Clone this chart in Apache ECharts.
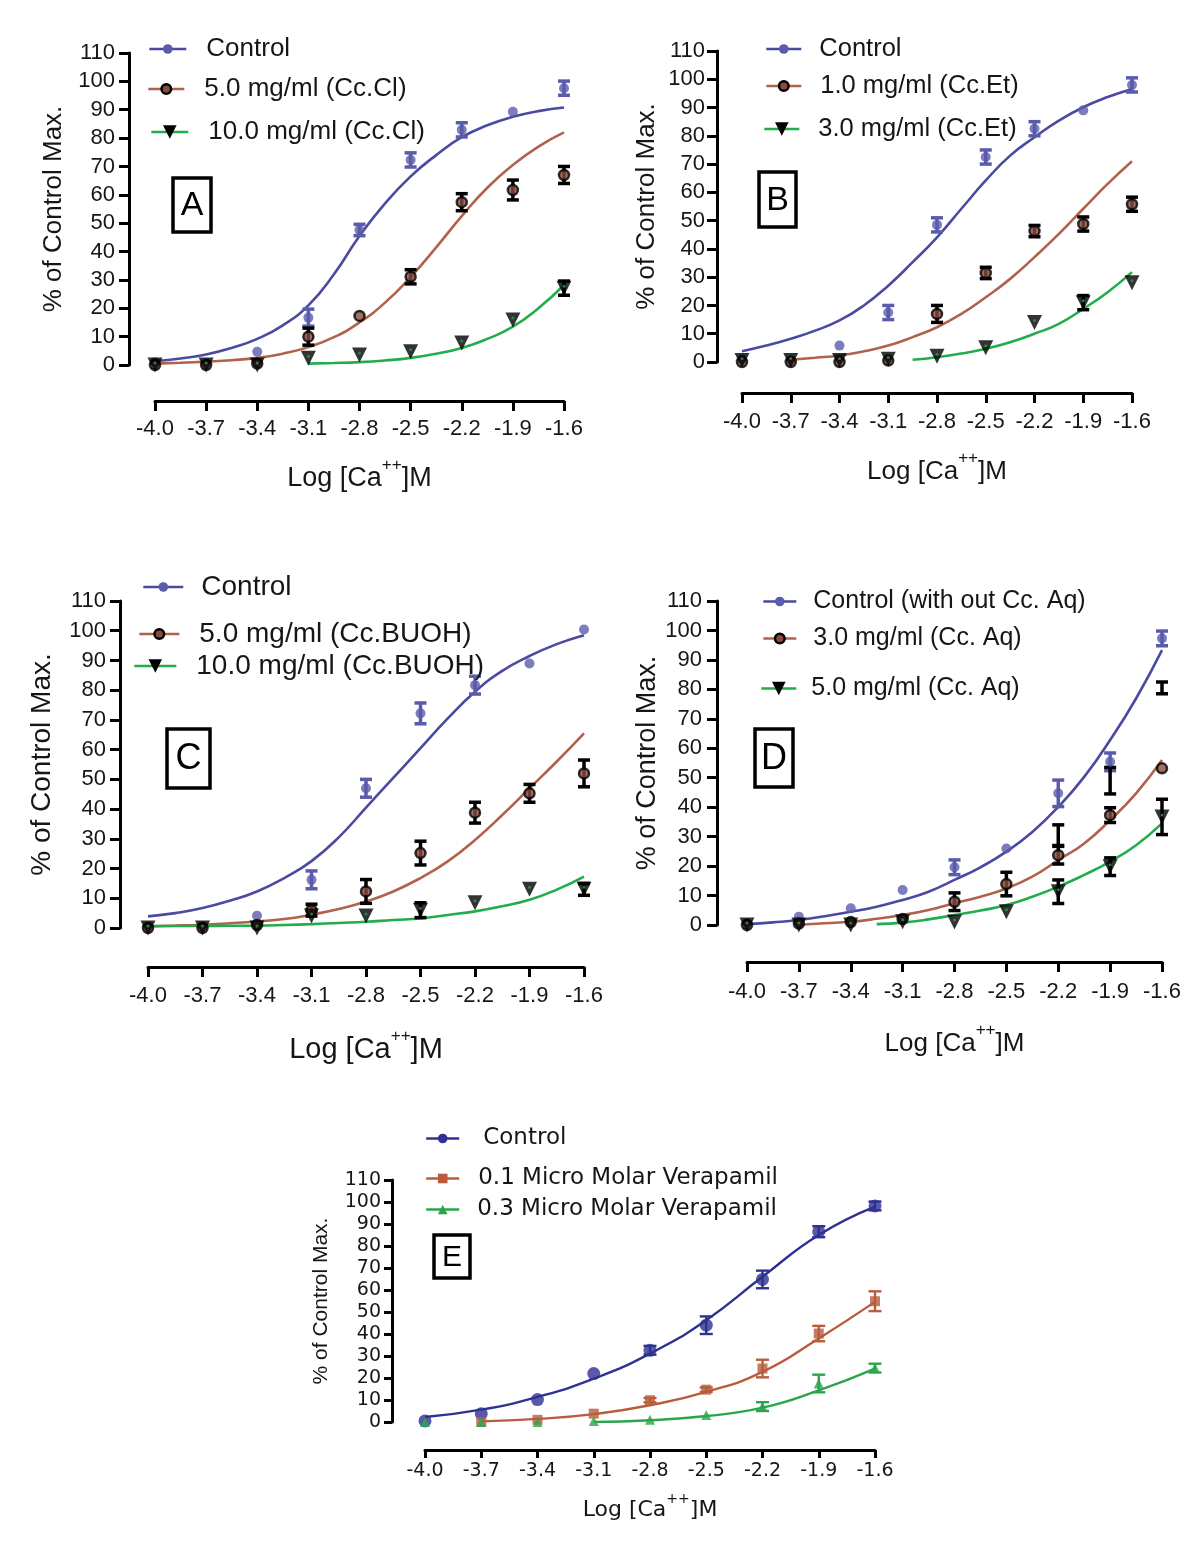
<!DOCTYPE html>
<html><head><meta charset="utf-8">
<script src="https://cdn.jsdelivr.net/npm/echarts@6/dist/echarts.min.js"></script>
<style>html,body{margin:0;padding:0;background:#fff}#c{width:1200px;height:1553px}</style>
</head><body><div id="c"></div>
<script>
// ---------- DATA ----------
const xTicks = [-4.0, -3.7, -3.4, -3.1, -2.8, -2.5, -2.2, -1.9, -1.6];
const xTickLabels = ['-4.0', '-3.7', '-3.4', '-3.1', '-2.8', '-2.5', '-2.2', '-1.9', '-1.6'];
const fitX = [-4.0, -3.85, -3.7, -3.55, -3.4, -3.25, -3.1, -2.95, -2.8, -2.65, -2.5, -2.35, -2.2, -2.05, -1.9, -1.75, -1.6];

// Panel A
const A_names = ['Control', '5.0 mg/ml (Cc.Cl)', '10.0 mg/ml (Cc.Cl)'];
const A_ctrl = [1, 0.5, 4.7, 16.7, 47.6, 72.3, 82.9, 89.3, 97.6];
const A_ctrl_err = [0, 0, 0, 3, 2, 2.5, 2.5, 0, 2.5];
const A_d1 = [0, 0, 0.5, 10, 17.3, 31.1, 57.4, 61.7, 67];
const A_d1_err = [0, 0, 0, 3, 0, 2.5, 3, 3.5, 3];
const A_d2 = [0, 0, 0, 2.4, 3.5, 4.7, 7.8, 15.9, 27.1];
const A_d2_err = [0, 0, 0, 0, 0, 0, 0, 0, 2.5];
const A_fit_ctrl = [1.3, 2.3, 3.7, 6, 9.2, 14, 21, 32, 45.5, 57, 66.5, 74, 80.3, 84.5, 87.5, 89.5, 90.8];
const A_fit_d1 = [0.5, 0.8, 1.2, 1.7, 2.5, 4, 6.3, 9.8, 15, 22, 31, 41.5, 52.5, 62.5, 70.5, 77, 82];
const A_fit_d2 = [null, null, null, null, null, null, 0.5, 0.7, 1, 1.6, 2.5, 4, 6, 9.2, 13.5, 20, 28.2];

// Panel B
const B_names = ['Control', '1.0 mg/ml (Cc.Et)', '3.0 mg/ml (Cc.Et)'];
const B_ctrl = [1, 0.5, 5.8, 17.5, 48.5, 72.5, 82.5, 89, 98];
const B_ctrl_err = [0, 0, 0, 2.5, 2.5, 2.5, 2.5, 0, 2.5];
const B_d1 = [0, 0, 0, 0.5, 17, 31.5, 46.3, 48.8, 55.8];
const B_d1_err = [0, 0, 0, 0, 3, 2, 2, 2.5, 2.5];
const B_d2 = [0.5, 0.5, 0.5, 1, 2, 5, 14, 21, 28];
const B_d2_err = [0, 0, 0, 0, 0, 0, 0, 2.5, 0];
const B_fit_ctrl = [3.8, 5.8, 8.2, 11.1, 14.7, 20, 27, 35.3, 44.1, 54.2, 64.2, 73, 79.5, 85.4, 90.1, 93.7, 96.6];
const B_fit_d1 = [null, null, 0.8, 1.5, 2.3, 3.8, 5.8, 8.8, 12.3, 17, 22.9, 29.4, 37.1, 45.3, 54.2, 63, 71];
const B_fit_d2 = [null, null, null, null, null, null, null, 0.8, 1.7, 3, 4.7, 7, 10, 13.5, 18.8, 24.7, 31.8];

// Panel C
const C_names = ['Control', '5.0 mg/ml (Cc.BUOH)', '10.0 mg/ml (Cc.BUOH)'];
const C_ctrl = [0.5, 0.5, 4.1, 16.2, 47, 72.2, 81.7, 89, 100.4];
const C_ctrl_err = [0, 0, 0, 3, 3, 3.5, 3, 0, 0];
const C_d1 = [0, 0, 1, 6, 12.3, 25.2, 38.8, 45.3, 52];
const C_d1_err = [0, 0, 0, 2, 4, 4, 3.5, 3, 4.5];
const C_d2 = [0, 0, 0, 4, 4, 6, 8.5, 13, 13];
const C_d2_err = [0, 0, 0, 0, 0, 2.5, 0, 0, 2];
const C_fit_ctrl = [3.9, 5, 6.7, 9.2, 12.3, 16.8, 22.5, 30.5, 40.5, 50.5, 60.5, 70.5, 79.5, 86.5, 91.5, 95.5, 98.5];
const C_fit_d1 = [0.6, 0.8, 1.1, 1.6, 2.2, 3, 4.5, 6.4, 8.9, 12.3, 16.8, 22.4, 29.6, 38, 47, 56, 65.5];
const C_fit_d2 = [0.6, 0.65, 0.7, 0.75, 0.8, 1, 1.3, 1.7, 2.1, 2.7, 3.2, 4.4, 5.6, 7.3, 9.5, 12.9, 17.3];

// Panel D
const D_names = ['Control (with out Cc. Aq)', '3.0 mg/ml (Cc. Aq)', '5.0 mg/ml (Cc. Aq)'];
const D_ctrl = [0.5, 2.8, 5.7, 11.9, 19.6, 26, 44.7, 55.4, 97.3];
const D_ctrl_err = [0, 0, 0, 0, 2.5, 0, 4.5, 3, 2.5];
const D_d1 = [0, 0.5, 1, 2, 7.9, 13.9, 23.7, 37.3, 53.2];
const D_d1_err = [0, 0, 0, 0, 3, 4, 3, 2.5, 0];
const D_d2 = [0, 0, 0, 1.1, 1, 4.5, 11.3, 19.8, 36.7];
const D_d2_err = [0, 0, 0, 0, 0, 0, 4, 3, 6];
const D_bar_x = [-2.2, -1.9, -1.6];
const D_bar_y = [30.5, 49, 80.5];
const D_bar_err = [3.5, 4.5, 2];
const D_fit_ctrl = [0.3, 0.9, 1.7, 3, 4.5, 6.2, 8.5, 11.3, 15.3, 19.6, 24.9, 31.6, 40.1, 50.3, 62.8, 76.9, 93.3];
const D_fit_d1 = [null, null, 0.1, 0.6, 1.1, 2.1, 3.4, 5.1, 7.4, 9.6, 12.4, 16.4, 22, 27.7, 35.6, 44.7, 56];
const D_fit_d2 = [null, null, null, null, null, 0.3, 0.8, 1.9, 3.4, 4.9, 6.8, 9.6, 13, 17, 21.5, 27.1, 34.5];

// Panel E
const E_names = ['Control', '0.1 Micro Molar Verapamil', '0.3 Micro Molar Verapamil'];
const E_ctrl = [0.5, 3.8, 10.2, 22, 32.6, 44, 64.8, 86.5, 98.2];
const E_ctrl_err = [0, 0, 0, 0, 2, 4, 4, 2.5, 2];
const E_d1 = [null, 0, 1, 3.8, 9.9, 14.7, 24.3, 40.2, 54.9];
const E_d1_err = [0, 0, 0, 0, 1, 1, 4, 3.5, 4.5];
const E_d2 = [0, 0, 0, 0.5, 1, 3.2, 7, 17.5, 24.5];
const E_d2_err = [0, 0, 0, 0, 0, 0, 2, 4, 2];
const E_fit_ctrl = [2.3, 5.6, 11.4, 19.7, 31.1, 46.3, 66, 85, 97.9];
const E_fit_d1 = [null, 0.3, 1.4, 3.6, 7.6, 13.7, 22.8, 38, 54.6];
const E_fit_d2 = [null, null, null, 0, 0.8, 2.7, 6.5, 14.4, 24.3];

const yTitle = '% of Control Max.';
const panelLetters = ['A', 'B', 'C', 'D', 'E'];

// ---------- STYLE / LAYOUT ----------
const FONT = "'Liberation Sans', Arial, Helvetica, sans-serif";
const DV = "'DejaVu Sans', 'Liberation Sans', sans-serif";
const TXT = '#161616';
const PUR = '#5a5cab', PURL = '#4a4aa0', BRN = '#b0624b', GRN = '#22ad4d';
const EBL = '#2e3192', EBR = '#b85c3c', EGR = '#2aa54b';

const xIdx = x => Math.round((x + 4) / 0.3 * 1000) / 1000;

const grids = [], xAxes = [], yAxes = [], series = [], legends = [], graphics = [];

function errRender(color, capW, lw) {
  return function (params, api) {
    const x = api.value(0), y = api.value(1), e = api.value(2);
    const p1 = api.coord([x, y + e]), p2 = api.coord([x, y - e]);
    const st = { stroke: color, lineWidth: lw };
    return { type: 'group', children: [
      { type: 'line', shape: { x1: p1[0], y1: p1[1], x2: p2[0], y2: p2[1] }, style: st },
      { type: 'line', shape: { x1: p1[0] - capW / 2, y1: p1[1], x2: p1[0] + capW / 2, y2: p1[1] }, style: st },
      { type: 'line', shape: { x1: p2[0] - capW / 2, y1: p2[1], x2: p2[0] + capW / 2, y2: p2[1] }, style: st }
    ] };
  };
}

function addPanel(p) {
  const gi = grids.length;
  grids.push(p.grid);
  yAxes.push({
    gridIndex: gi, type: 'value', min: 0, max: 110, interval: 10, offset: p.yOff,
    axisLine: { show: true, onZero: false, lineStyle: { color: '#000', width: p.axW } },
    axisTick: { show: true, length: p.tickLen, lineStyle: { color: '#000', width: p.axW } },
    axisLabel: { fontSize: p.tickFs, fontFamily: p.tickFont, color: TXT, margin: p.yLabMargin, showMinLabel: true, showMaxLabel: true },
    splitLine: { show: false },
    name: yTitle, nameLocation: 'middle', nameRotate: 90, nameGap: p.yNameGap,
    nameTextStyle: { fontSize: p.yNameFs, fontFamily: FONT, color: TXT }
  });
  xAxes.push({
    gridIndex: gi, type: 'value', min: 0, max: 8, interval: 1, offset: p.xOff,
    axisLine: { show: true, onZero: false, lineStyle: { color: '#000', width: p.axW } },
    axisTick: { show: true, length: p.tickLen, lineStyle: { color: '#000', width: p.axW } },
    axisLabel: { fontSize: p.tickFs, fontFamily: p.tickFont, color: TXT, margin: p.xLabMargin,
      formatter: v => xTickLabels[Math.round(v)], showMinLabel: true, showMaxLabel: true },
    splitLine: { show: false },
    name: '{n|Log [Ca}{s|++}{n|]M}', nameLocation: 'middle', nameGap: p.xNameGap,
    nameTextStyle: { rich: {
      n: { fontSize: p.xNameFs, lineHeight: p.xNameLh, fontFamily: p.xNameFont, color: TXT },
      s: { fontSize: p.xSupFs, lineHeight: p.xSupFs, verticalAlign: 'top', fontFamily: p.xNameFont, color: TXT }
    } }
  });
  p.sets.forEach((s, k) => {
    const fx = s.fitX || fitX;
    const lineData = [];
    fx.forEach((x, i) => { if (s.fit[i] != null) lineData.push([xIdx(x), s.fit[i]]); });
    series.push({
      type: 'line', name: s.name, xAxisIndex: gi, yAxisIndex: gi, data: lineData,
      smooth: 0.5, showSymbol: false, symbol: s.symbol, symbolRotate: s.rotate || 0,
      symbolSize: s.size, lineStyle: { color: s.lineColor, width: p.lineW }, itemStyle: s.item,
      z: 2, silent: true, animation: false
    });
    const errData = [];
    xTicks.forEach((x, i) => { if (s.y[i] != null && s.err[i] > 0) errData.push([xIdx(x), s.y[i], s.err[i]]); });
    series.push({
      type: 'custom', name: s.name, xAxisIndex: gi, yAxisIndex: gi, data: errData,
      renderItem: errRender(s.errColor, p.capW, p.errW), clip: false, z: 3, silent: true, animation: false
    });
    const pts = [];
    xTicks.forEach((x, i) => { if (s.y[i] != null) pts.push([xIdx(x), s.y[i]]); });
    series.push({
      type: 'scatter', name: s.name, xAxisIndex: gi, yAxisIndex: gi, data: pts,
      symbol: s.symbol, symbolSize: s.size, symbolRotate: s.rotate || 0, itemStyle: s.item,
      clip: false, z: 4 + k * 0.1, silent: true, animation: false
    });
    if (s.dot) {
      series.push({
        type: 'scatter', name: s.name, xAxisIndex: gi, yAxisIndex: gi, data: pts,
        symbol: 'circle', symbolSize: 3, symbolOffset: [0, -2], itemStyle: { color: s.dot },
        clip: false, z: 5, silent: true, animation: false
      });
    }
    const L = p.legend[k];
    legends.push({
      data: [s.name], left: L.left, top: L.top, padding: 0, itemWidth: L.w, itemHeight: L.h,
      selectedMode: false, symbolRotate: 'inherit',
      itemStyle: Object.assign({ borderWidth: 0 }, s.item),
      lineStyle: { color: s.lineColor, width: p.lineW },
      textStyle: { fontSize: p.legFs, fontFamily: p.legFont, color: TXT, padding: [0, 0, 0, L.pad] }
    });
  });
  if (p.extra) p.extra(gi);
  const b = p.box;
  graphics.push({ type: 'group', z: 100, children: [
    { type: 'rect', shape: { x: b.x, y: b.y, width: b.w, height: b.h }, style: { fill: '#fff', stroke: '#000', lineWidth: b.lw } },
    { type: 'text', style: { text: p.letter, x: b.x + b.w / 2, y: b.y + b.h / 2 + 1, align: 'center', verticalAlign: 'middle',
      textAlign: 'center', textVerticalAlign: 'middle', fontSize: b.fs, fontFamily: FONT, fill: '#000' } }
  ] });
}

function stdSets(names, c, ce, d1, d1e, d2, d2e, f0, f1, f2) {
  return [
    { name: names[0], y: c, err: ce, fit: f0, symbol: 'circle', size: 10, item: { color: PUR }, lineColor: PURL, errColor: PUR },
    { name: names[1], y: d1, err: d1e, fit: f1, symbol: 'circle', size: 10, item: { color: '#8a4b3c', borderColor: '#000', borderWidth: 2.5 }, lineColor: BRN, errColor: '#000' },
    { name: names[2], y: d2, err: d2e, fit: f2, symbol: 'triangle', rotate: 180, size: 15, item: { color: '#000' }, lineColor: GRN, errColor: '#000', dot: '#2a9a52' }
  ];
}

const common = { axW: 3, tickLen: 10, tickFs: 22, tickFont: FONT, lineW: 2.6, capW: 12, errW: 3.5, xSupFs: 17, xNameFont: FONT, legFont: FONT };

addPanel(Object.assign({}, common, {
  letter: 'A', grid: { left: 155, top: 53, width: 409, height: 312 }, yOff: 26, xOff: 36,
  yLabMargin: 14, xLabMargin: 17, yNameGap: 62, yNameFs: 26, xNameGap: 56, xNameFs: 27, xNameLh: 44, legFs: 26,
  sets: stdSets(A_names, A_ctrl, A_ctrl_err, A_d1, A_d1_err, A_d2, A_d2_err, A_fit_ctrl, A_fit_d1, A_fit_d2),
  legend: [{ left: 148, top: 36, w: 37, h: 12, pad: 15 }, { left: 147, top: 76, w: 36, h: 12, pad: 15 }, { left: 150, top: 119, w: 37, h: 17, pad: 15 }],
  box: { x: 173, y: 178, w: 38, h: 54, lw: 3.5, fs: 34 }
}));
addPanel(Object.assign({}, common, {
  letter: 'B', grid: { left: 742, top: 51, width: 390, height: 311 }, yOff: 25, xOff: 31,
  yLabMargin: 12, xLabMargin: 18, yNameGap: 57, yNameFs: 26, xNameGap: 57, xNameFs: 26, xNameLh: 44, legFs: 25.5,
  sets: stdSets(B_names, B_ctrl, B_ctrl_err, B_d1, B_d1_err, B_d2, B_d2_err, B_fit_ctrl, B_fit_d1, B_fit_d2),
  legend: [{ left: 765, top: 36, w: 35, h: 12, pad: 13 }, { left: 765, top: 73, w: 35, h: 12, pad: 14 }, { left: 763, top: 116, w: 35, h: 17, pad: 14 }],
  box: { x: 759, y: 172, w: 37, h: 55, lw: 3.5, fs: 34 }
}));
addPanel(Object.assign({}, common, {
  letter: 'C', grid: { left: 148, top: 601, width: 436, height: 327 }, yOff: 28, xOff: 39,
  yLabMargin: 14, xLabMargin: 18, yNameGap: 64, yNameFs: 28, xNameGap: 61, xNameFs: 29, xNameLh: 44, legFs: 28,
  sets: stdSets(C_names, C_ctrl, C_ctrl_err, C_d1, C_d1_err, C_d2, C_d2_err, C_fit_ctrl, C_fit_d1, C_fit_d2),
  legend: [{ left: 142, top: 573, w: 40, h: 12, pad: 13 }, { left: 138, top: 620, w: 40, h: 12, pad: 15 }, { left: 133, top: 652, w: 42, h: 17, pad: 15 }],
  box: { x: 167, y: 729, w: 43, h: 59, lw: 3.5, fs: 36 }
}));
addPanel(Object.assign({}, common, {
  letter: 'D', grid: { left: 747, top: 601, width: 415, height: 324 }, yOff: 30, xOff: 37,
  yLabMargin: 15, xLabMargin: 19, yNameGap: 54, yNameFs: 27, xNameGap: 60, xNameFs: 26, xNameLh: 44, legFs: 25,
  sets: stdSets(D_names, D_ctrl, D_ctrl_err, D_d1, D_d1_err, D_d2, D_d2_err, D_fit_ctrl, D_fit_d1, D_fit_d2),
  legend: [{ left: 762, top: 589, w: 33, h: 12, pad: 12 }, { left: 762, top: 626, w: 33, h: 12, pad: 12 }, { left: 760, top: 676, w: 35, h: 17, pad: 10 }],
  box: { x: 755, y: 729, w: 38, h: 58, lw: 3.5, fs: 36 },
  extra: gi => {
    const d = D_bar_x.map((x, i) => [xIdx(x), D_bar_y[i], D_bar_err[i]]);
    series.push({ type: 'custom', name: '3.0 mg/ml (Cc. Aq) bars', xAxisIndex: gi, yAxisIndex: gi, data: d,
      renderItem: errRender('#000', 12, 3.5), clip: false, z: 3, silent: true, animation: false });
  }
}));
addPanel(Object.assign({}, common, {
  letter: 'E', grid: { left: 425, top: 1180, width: 450, height: 242 }, yOff: 33, xOff: 28,
  tickFs: 19, tickFont: DV, axW: 3, tickLen: 8, lineW: 2.4, capW: 13, errW: 2.4,
  yLabMargin: 11, xLabMargin: 12, yNameGap: 60, yNameFs: 21, xNameGap: 42, xNameFs: 22, xNameLh: 36, xSupFs: 14, xNameFont: DV,
  legFs: 23, legFont: DV,
  sets: [
    { name: E_names[0], y: E_ctrl, err: E_ctrl_err, fit: E_fit_ctrl, fitX: xTicks, symbol: 'circle', size: 13, item: { color: EBL }, lineColor: EBL, errColor: EBL },
    { name: E_names[1], y: E_d1, err: E_d1_err, fit: E_fit_d1, fitX: xTicks, symbol: 'rect', size: 10, item: { color: EBR }, lineColor: EBR, errColor: EBR },
    { name: E_names[2], y: E_d2, err: E_d2_err, fit: E_fit_d2, fitX: xTicks, symbol: 'triangle', size: 10, item: { color: EGR }, lineColor: EGR, errColor: EGR }
  ],
  legend: [{ left: 425, top: 1127, w: 33, h: 12, pad: 19 }, { left: 425, top: 1167, w: 33, h: 12, pad: 14 }, { left: 425, top: 1198, w: 33, h: 12, pad: 13 }],
  box: { x: 434, y: 1235, w: 36, h: 43, lw: 3.5, fs: 30 }
}));

const chart = echarts.init(document.getElementById('c'), null, { renderer: 'canvas', width: 1200, height: 1553 });
chart.setOption({
  backgroundColor: '#fff', animation: false,
  grid: grids, xAxis: xAxes, yAxis: yAxes, series: series, legend: legends, graphic: graphics
});
</script></body></html>
